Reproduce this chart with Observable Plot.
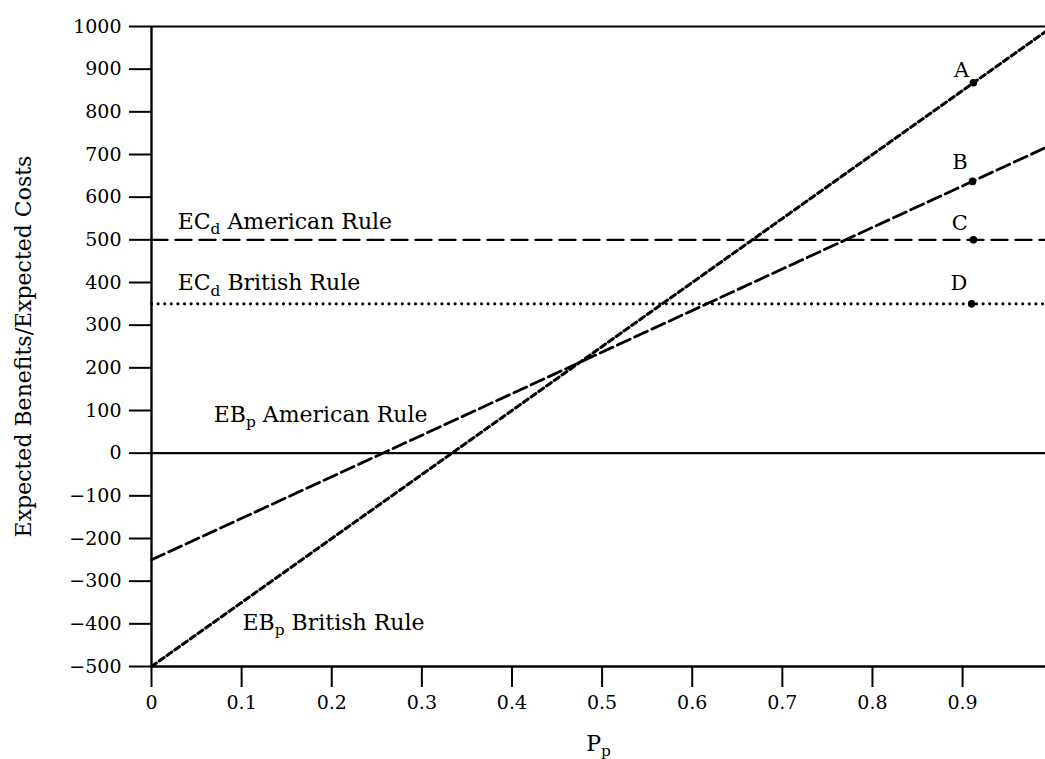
<!DOCTYPE html>
<html>
<head>
<meta charset="utf-8">
<script src="https://cdn.jsdelivr.net/npm/d3@7"></script>
<script src="https://cdn.jsdelivr.net/npm/@observablehq/plot@0.6"></script>
<style>
  html, body { margin: 0; padding: 0; background: #fff; }
  svg { display: block; }
</style>
</head>
<body>
<div id="chart"></div>
<script>
// ---- data ----
const xTicks = [0, 0.1, 0.2, 0.3, 0.4, 0.5, 0.6, 0.7, 0.8, 0.9];
const yTicks = [-500, -400, -300, -200, -100, 0, 100, 200, 300, 400, 500, 600, 700, 800, 900, 1000];
const pp = [0, 0.992];
const ebBritish = [-500, 988];
const ebAmerican = [-250, 716];
const ecAmerican = [500, 500];
const ecBritish = [350, 350];
const zeroLine = [0, 0];
const pointLabels = ["A", "B", "C", "D"];
const pointX = [0.912, 0.911, 0.912, 0.91];
const pointY = [868, 637, 500, 350];
const pointLabelX = [0.899, 0.897, 0.897, 0.896];
const pointLabelY = [897, 681, 540, 398];
const seriesLabels = ["EC_d American Rule", "EC_d British Rule", "EB_p American Rule", "EB_p British Rule"];
const seriesLabelX = [0.029, 0.029, 0.069, 0.101];
const seriesLabelY = [543, 398, 90, -397];

const series = (ys) => pp.map((p, i) => ({x: p, y: ys[i]}));
const fmt = d => d < 0 ? "\u2212" + Math.abs(d) : String(d);

const plot = Plot.plot({
  width: 1045,
  height: 759,
  marginLeft: 151,
  marginRight: 0,
  marginTop: 26,
  marginBottom: 93,
  x: {domain: [0, 0.992]},
  y: {domain: [-500, 1000]},
  style: {fontFamily: "DejaVu Serif", fontSize: "19px", color: "#000", background: "#fff"},
  marks: [
    Plot.ruleY([1000], {strokeWidth: 2}),
    Plot.ruleY([-500], {strokeWidth: 2.4}),
    Plot.ruleX([0], {y1: -500, y2: 1000, strokeWidth: 2.4}),
    Plot.axisY({
      ticks: yTicks, tickSize: 22, tickPadding: 8, strokeWidth: 2, fontSize: 19,
      tickFormat: fmt,
      label: "Expected Benefits/Expected Costs", labelAnchor: "center", labelArrow: "none", labelOffset: 136
    }),
    Plot.axisX({
      ticks: xTicks, tickSize: 21, tickPadding: 8, strokeWidth: 2, fontSize: 19,
      tickFormat: d => String(d),
      label: "P_p", labelAnchor: "center", labelArrow: "none", labelOffset: 84
    }),
    Plot.line(series(zeroLine), {x: "x", y: "y", strokeWidth: 2.2}),
    Plot.line(series(ecAmerican), {x: "x", y: "y", strokeWidth: 2.4, strokeDasharray: "16,8"}),
    Plot.line(series(ecBritish), {x: "x", y: "y", strokeWidth: 3.2, strokeDasharray: "0,6.6", strokeLinecap: "round"}),
    Plot.line(series(ebAmerican), {x: "x", y: "y", strokeWidth: 2.8, strokeDasharray: "14,5"}),
    Plot.line(series(ebBritish), {x: "x", y: "y", strokeWidth: 3, strokeDasharray: "6,3.5"}),
    Plot.dot(pointLabels.map((l, i) => ({x: pointX[i], y: pointY[i]})), {x: "x", y: "y", r: 3.8, fill: "#000", stroke: "none"}),
    Plot.text(pointLabels.map((l, i) => ({t: l, x: pointLabelX[i], y: pointLabelY[i]})), {x: "x", y: "y", text: "t", fontSize: 21}),
    Plot.text(seriesLabels.map((l, i) => ({t: l, x: seriesLabelX[i], y: seriesLabelY[i]})), {x: "x", y: "y", text: "t", textAnchor: "start", fontSize: 22})
  ]
});

// subscripts: "X_s rest" -> X, subscript s, rest
d3.select(plot).selectAll("text").each(function() {
  const s = this.textContent;
  const m = s.match(/^(.*?)_(\w)(.*)$/);
  if (!m || this.querySelector("tspan")) return;
  this.textContent = "";
  const sel = d3.select(this);
  sel.append("tspan").text(m[1]);
  sel.append("tspan").attr("dy", "0.35em").attr("font-size", "70%").text(m[2]);
  sel.append("tspan").attr("dy", "-0.245em").text(m[3]);
});
d3.select(plot).selectAll('g[aria-label="y-axis label"] text, g[aria-label="x-axis label"] text').attr("font-size", 22);

document.getElementById("chart").appendChild(plot);
</script>
</body>
</html>
